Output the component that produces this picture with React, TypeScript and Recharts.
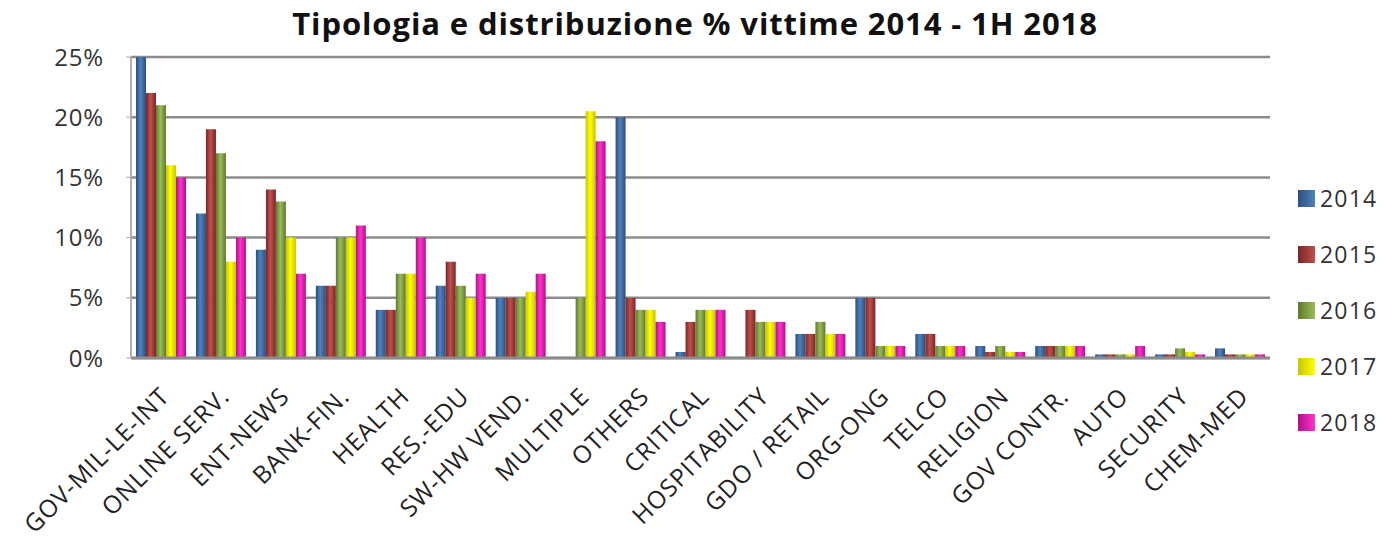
import React from "react";
import { Bar, BarChart, CartesianGrid, XAxis, YAxis } from "recharts";

const categories = [
  "GOV-MIL-LE-INT", "ONLINE SERV.", "ENT-NEWS", "BANK-FIN.", "HEALTH", "RES.-EDU",
  "SW-HW VEND.", "MULTIPLE", "OTHERS", "CRITICAL", "HOSPITABILITY", "GDO / RETAIL",
  "ORG-ONG", "TELCO", "RELIGION", "GOV CONTR.", "AUTO", "SECURITY", "CHEM-MED",
];

const v2014 = [25, 12, 9, 6, 4, 6, 5, 0, 20, 0.5, 0, 2, 5, 2, 1, 1, 0.3, 0.3, 0.8];
const v2015 = [22, 19, 14, 6, 4, 8, 5, 0, 5, 3, 4, 2, 5, 2, 0.5, 1, 0.3, 0.3, 0.3];
const v2016 = [21, 17, 13, 10, 7, 6, 5, 5, 4, 4, 3, 3, 1, 1, 1, 1, 0.3, 0.8, 0.3];
const v2017 = [16, 8, 10, 10, 7, 5, 5.5, 20.5, 4, 4, 3, 2, 1, 1, 0.5, 1, 0.3, 0.5, 0.3];
const v2018 = [15, 10, 7, 11, 10, 7, 7, 18, 3, 4, 3, 2, 1, 1, 0.5, 1, 1, 0.3, 0.3];

const yTicks = [0, 5, 10, 15, 20, 25];

const series = [
  { key: "2014", color: "#4f81bd", dark: "#2c4f7c" },
  { key: "2015", color: "#c0504d", dark: "#7a2624" },
  { key: "2016", color: "#9bbb59", dark: "#5f7a2c" },
  { key: "2017", color: "#ffff00", dark: "#c9c400" },
  { key: "2018", color: "#ff33cc", dark: "#b0108a" },
];

const data = categories.map((name, i) => ({
  name,
  "2014": v2014[i],
  "2015": v2015[i],
  "2016": v2016[i],
  "2017": v2017[i],
  "2018": v2018[i],
}));

const font = "'Open Sans', sans-serif";

function CategoryTick(props: any) {
  const { x, y, payload } = props;
  return (
    <g transform={`translate(${x + 10},${y + 32})`}>
      <text
        textAnchor="end"
        transform="rotate(-45) scale(1.06,1.06)"
        fontFamily={font}
        fontSize={23}
        letterSpacing={0.8}
        fill="#222"
      >
        {payload.value}
      </text>
    </g>
  );
}

function LegendBox() {
  return (
    <div style={{ position: "absolute", left: 1298, top: 170, fontFamily: font, fontSize: 23, letterSpacing: 1.2, color: "#333" }}>
      {series.map((s) => (
        <div key={s.key} style={{ display: "flex", alignItems: "center", height: 56 }}>
          <span
            style={{
              width: 17,
              height: 17,
              marginRight: 5,
              background: `linear-gradient(90deg, ${s.dark}, ${s.color})`,
            }}
          />
          {s.key}
        </div>
      ))}
    </div>
  );
}

export default function App() {
  return (
    <div style={{ position: "absolute", left: 0, top: 0, width: 1394, height: 539, background: "#fff" }}>
      <div
        style={{
          position: "absolute",
          top: 8,
          left: 290,
          width: 810,
          textAlign: "center",
          fontFamily: font,
          fontWeight: 700,
          fontSize: 31,
          lineHeight: "31px",
          letterSpacing: 0.9,
          color: "#111",
          whiteSpace: "nowrap",
        }}
      >
        Tipologia e distribuzione % vittime 2014 - 1H 2018
      </div>
      <BarChart
        width={1394}
        height={539}
        data={data}
        margin={{ top: 57, right: 124, left: 41, bottom: 11 }}
        barCategoryGap={5}
        barGap={0}
      >
        <defs>
          {series.map((s) => (
            <linearGradient key={s.key} id={`g${s.key}`} x1="0" y1="0" x2="1" y2="0">
              <stop offset="0%" stopColor={s.dark} />
              <stop offset="45%" stopColor={s.color} />
              <stop offset="100%" stopColor={s.dark} />
            </linearGradient>
          ))}
        </defs>
        <CartesianGrid vertical={false} stroke="#8c8c8c" strokeWidth={2.5} />
        <XAxis
          dataKey="name"
          interval={0}
          height={170}
          tick={<CategoryTick />}
          tickLine={false}
          axisLine={{ stroke: "#8c8c8c", strokeWidth: 3 }}
        />
        <YAxis
          width={90}
          domain={[0, 25]}
          ticks={yTicks}
          tickFormatter={(v: number) => `${v}%`}
          tick={{ fontFamily: font, fontSize: 24, letterSpacing: 0.8, fill: "#333", dx: -20 }}
          tickLine={{ stroke: "#aaa" }}
          tickSize={5}
          axisLine={{ stroke: "#b0b0b0", strokeWidth: 2 }}
        />
        {series.map((s) => (
          <Bar
            key={s.key}
            dataKey={s.key}
            fill={`url(#g${s.key})`}
            isAnimationActive={false}
          />
        ))}
      </BarChart>
      <LegendBox />
    </div>
  );
}
